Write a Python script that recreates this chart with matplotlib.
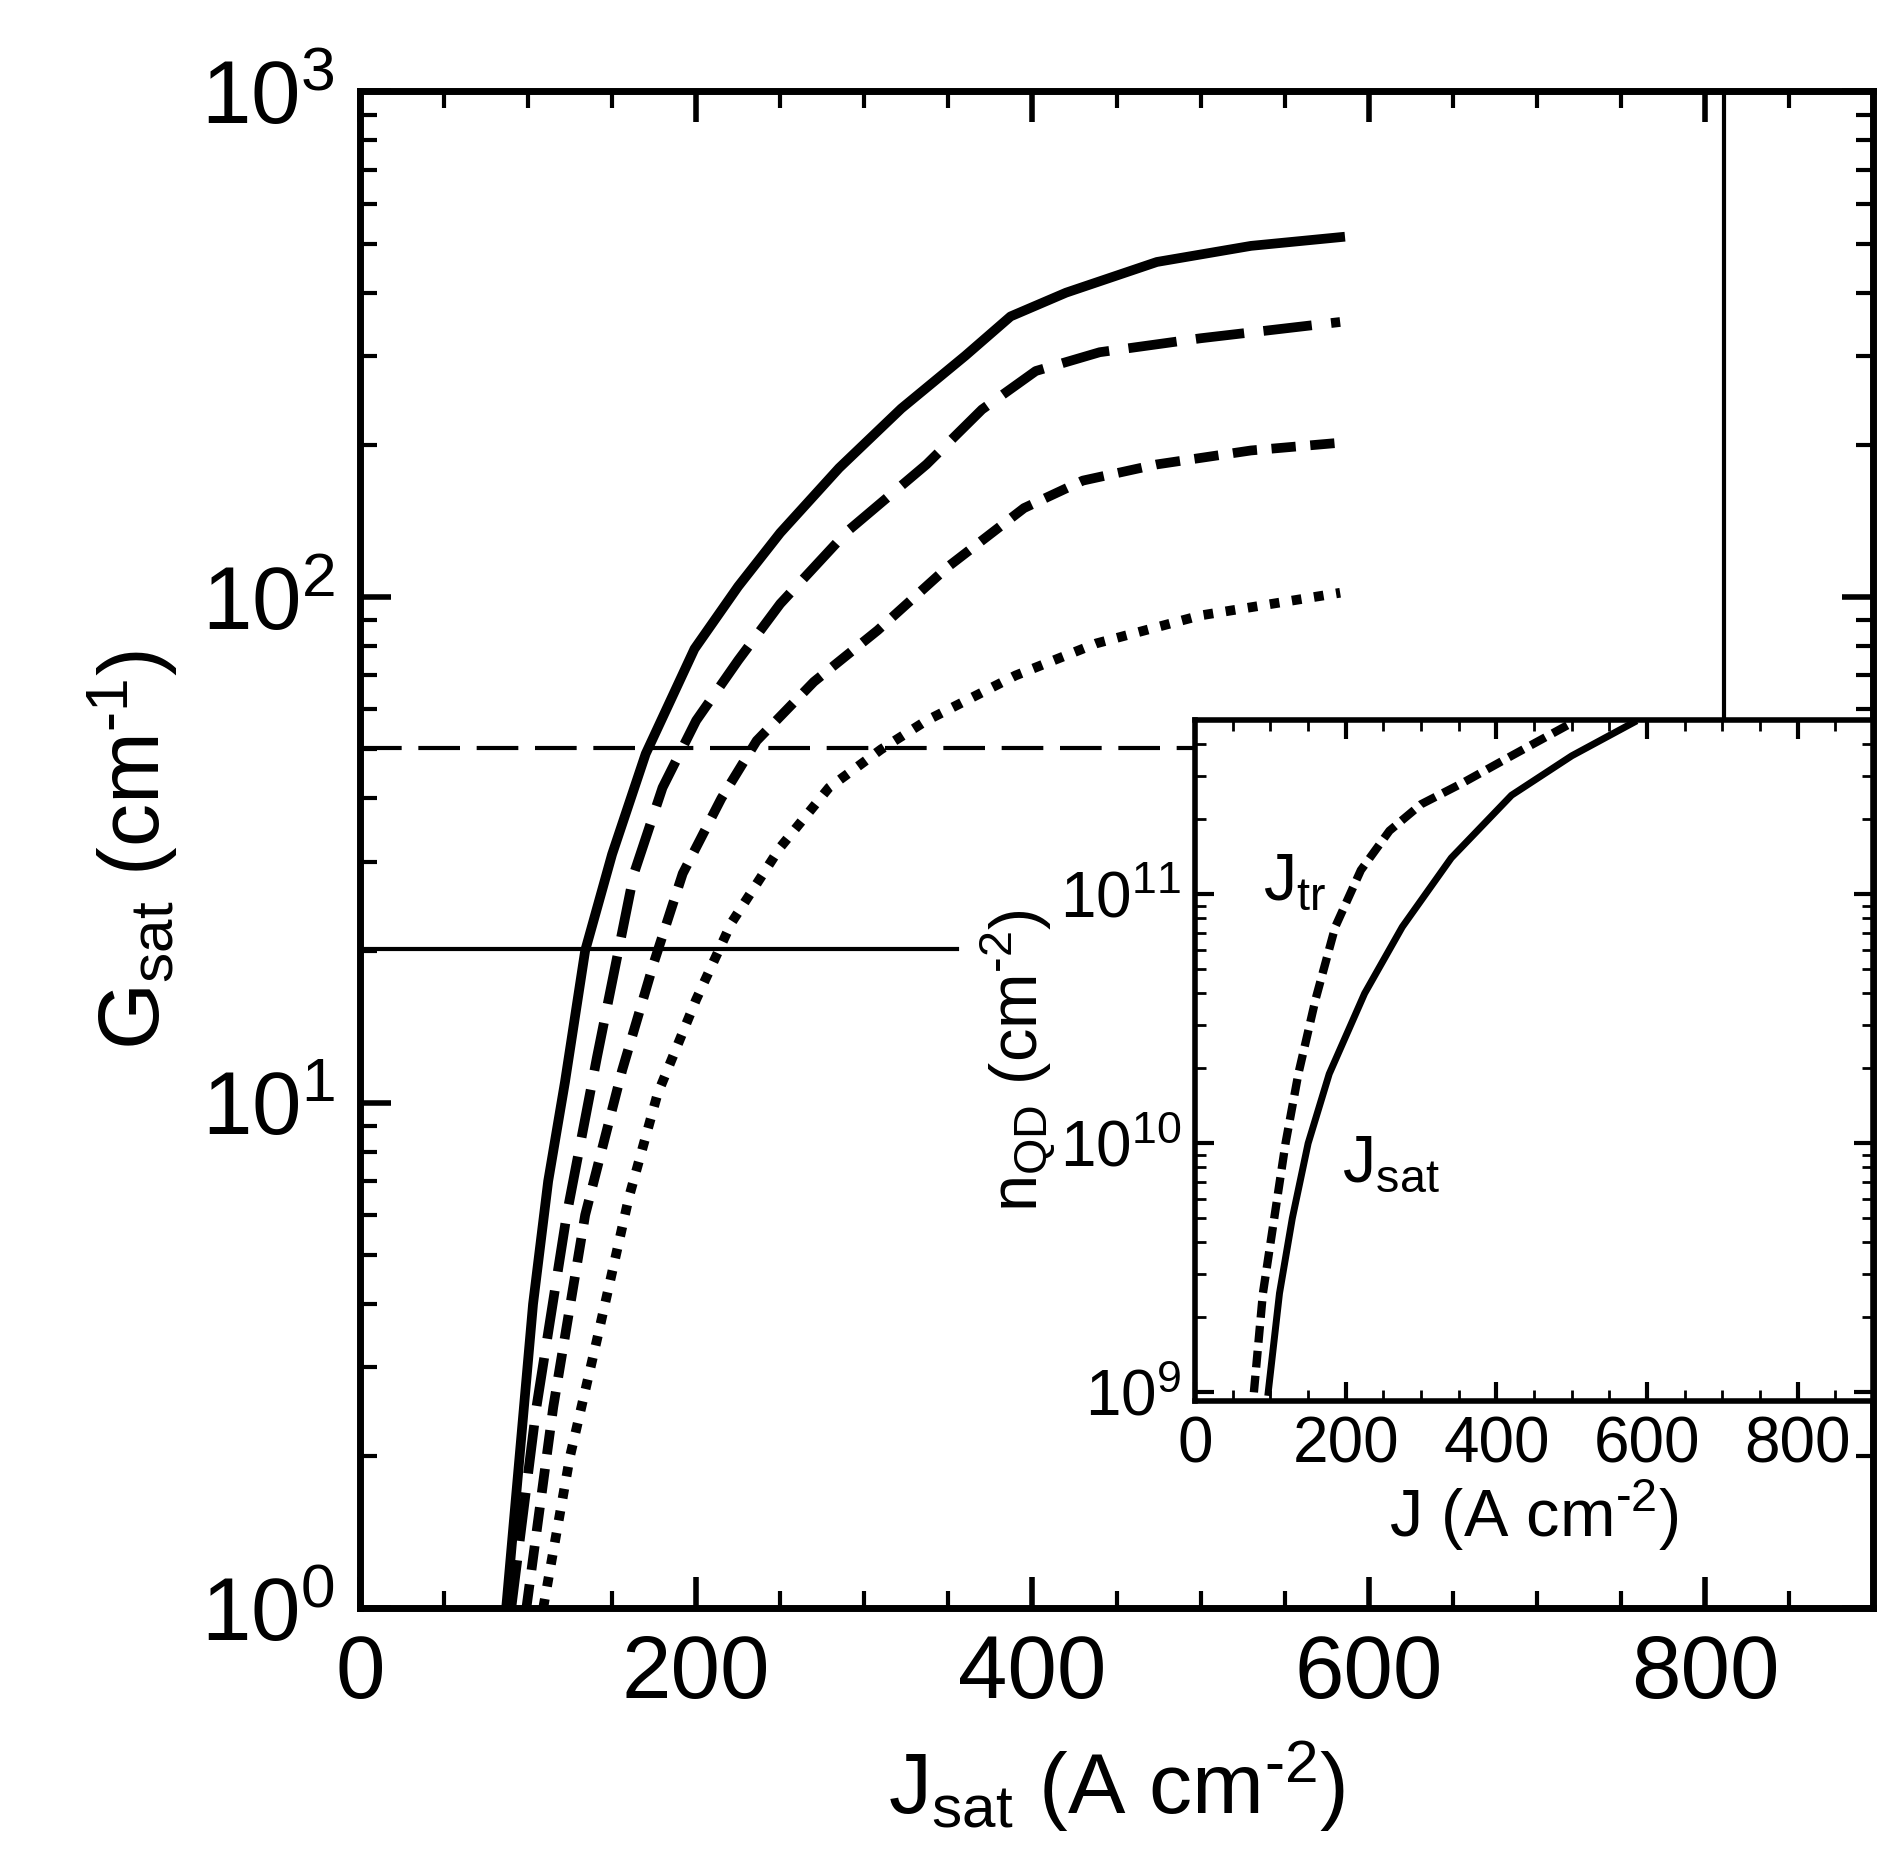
import numpy as np
import matplotlib
matplotlib.use("Agg")
import matplotlib.pyplot as plt
from matplotlib.ticker import LogLocator, MultipleLocator, NullFormatter

plt.rcParams["font.family"] = "Liberation Sans"
plt.rcParams["mathtext.fontset"] = "custom"
plt.rcParams["mathtext.rm"] = "Liberation Sans"
plt.rcParams["mathtext.it"] = "Liberation Sans"
plt.rcParams["mathtext.default"] = "rm"

# main panel: G_sat vs J_sat for four cases
sol_j = [87, 95, 103, 112, 122, 134, 150, 170, 199, 225, 250, 285, 322, 360, 387, 420, 474, 530, 583]
sol_g = [1, 2, 4, 7, 11, 20, 31, 49, 79, 105, 134, 180, 236, 300, 359, 400, 460, 495, 515]
ldash_j = [90, 105, 123, 141, 163, 180, 200, 225, 250, 290, 337, 370, 402, 440, 500, 583]
ldash_g = [1, 2.5, 6, 12.3, 28.4, 42, 57, 75, 97, 135, 183, 235, 280, 305, 325, 350]
sdash_j = [99, 115, 134, 156, 175, 192, 215, 236, 270, 308, 350, 395, 430, 474, 530, 583]
sdash_g = [1, 2.5, 6, 11.6, 19, 28.4, 40, 52, 68, 86, 115, 150, 170, 183, 195, 202]
dot_j = [109, 125, 141, 160, 177, 200, 221, 250, 279, 310, 337, 390, 438, 500, 583]
dot_g = [1, 2, 3.4, 6.5, 10.4, 16, 22.7, 32, 42, 50, 57, 70, 81, 92, 102]

# reference lines
h_dash_g, h_dash_jmax = 50.4, 496
h_sol_g, h_sol_jmax = 20.1, 355
v_sol_j, v_sol_gmin = 811, 58

# inset: n_QD vs J
jtr_j = [78, 90, 105, 120, 137, 160, 186, 220, 258, 300, 355, 420, 501]
jtr_n = [1e9, 2.5e9, 5e9, 1e10, 1.9e10, 3.8e10, 7.4e10, 1.25e11, 1.8e11, 2.3e11, 2.8e11, 3.6e11, 4.9e11]
jsat_j = [97, 112, 129, 150, 178, 225, 275, 340, 420, 500, 582]
jsat_n = [1e9, 2.5e9, 5e9, 1e10, 1.9e10, 4e10, 7.4e10, 1.4e11, 2.5e11, 3.6e11, 4.9e11]

fig = plt.figure(figsize=(18.94, 18.66), dpi=100)
ax = fig.add_axes([0.19, 0.138, 0.799, 0.813])
lw = 7
ax.plot(sol_j, sol_g, "k-", lw=lw)
ax.plot(ldash_j, ldash_g, "k", lw=lw, dashes=(5, 2))
ax.plot(sdash_j, sdash_g, "k", lw=lw, dashes=(2.5, 1.5))
ax.plot(dot_j, dot_g, "k", lw=lw, dashes=(1, 1.3))
ax.plot([0, h_dash_jmax], [h_dash_g] * 2, "k", lw=3, dashes=(10, 4))
ax.plot([0, h_sol_jmax], [h_sol_g] * 2, "k-", lw=3)
ax.plot([v_sol_j] * 2, [v_sol_gmin, 1000], "k-", lw=3)
ax.set_yscale("log")
ax.set_xlim(0, 900)
ax.set_ylim(1, 1000)
ax.xaxis.set_major_locator(MultipleLocator(200))
ax.xaxis.set_minor_locator(MultipleLocator(50))
ax.yaxis.set_major_locator(LogLocator(10))
ax.yaxis.set_minor_locator(LogLocator(10, subs=np.arange(2, 10)))
ax.yaxis.set_minor_formatter(NullFormatter())
ax.tick_params(which="both", direction="in", top=True, right=True, labelsize=64, pad=18)
ax.tick_params(which="major", length=22, width=4)
ax.tick_params(which="minor", length=12, width=3)
for s in ax.spines.values():
    s.set_linewidth(5)
ax.set_xlabel(r"J$_{\rm sat}$ (A cm$^{\text{-2}}$)", fontsize=62, labelpad=15)
ax.set_ylabel(r"G$_{\rm sat}$ (cm$^{\text{-1}}$)", fontsize=62, labelpad=15)

ins = fig.add_axes([0.631, 0.249, 0.358, 0.365])
ins.plot(jtr_j, jtr_n, "k", lw=6, dashes=(2, 1))
ins.plot(jsat_j, jsat_n, "k-", lw=5)
ins.set_yscale("log")
ins.set_xlim(0, 900)
ins.set_ylim(0.92e9, 5e11)
ins.xaxis.set_major_locator(MultipleLocator(200))
ins.xaxis.set_minor_locator(MultipleLocator(50))
ins.yaxis.set_major_locator(LogLocator(10))
ins.yaxis.set_minor_locator(LogLocator(10, subs=np.arange(2, 10)))
ins.yaxis.set_minor_formatter(NullFormatter())
ins.tick_params(which="both", direction="in", top=True, right=True, labelsize=46, pad=10)
ins.tick_params(which="major", length=14, width=3)
ins.tick_params(which="minor", length=8, width=2)
for s in ins.spines.values():
    s.set_linewidth(4)
ins.set_xlabel(r"J (A cm$^{\text{-2}}$)", fontsize=48, labelpad=2)
ins.set_ylabel(r"n$_{\rm QD}$ (cm$^{\text{-2}}$)", fontsize=48, labelpad=2)
ins.text(90, 9.5e10, r"J$_{\rm tr}$", fontsize=48)
ins.text(195, 7e9, r"J$_{\rm sat}$", fontsize=48)

fig.savefig("out.png", dpi=100)
